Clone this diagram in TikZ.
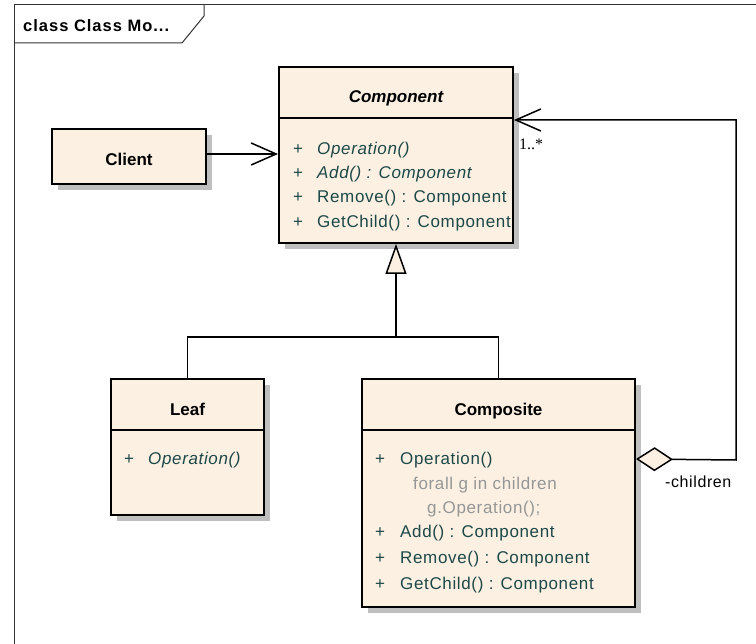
\documentclass[tikz,border=0pt]{standalone}
\usepackage{fontspec}
\setmainfont{Liberation Sans}
\newfontfamily\memberfont[LetterSpace=3.8]{Liberation Sans}
\newfontfamily\framefont[LetterSpace=6]{Liberation Sans}
\newfontfamily\multfont{Liberation Serif}
\usetikzlibrary{arrows.meta,shadows}
\definecolor{classfill}{RGB}{251,240,226}
\definecolor{membercol}{RGB}{30,72,72}
\definecolor{notecol}{RGB}{150,150,150}
\tikzset{
  classbox/.style={draw, line width=2pt, fill=classfill, inner sep=0pt,
    drop shadow={shadow xshift=6pt, shadow yshift=-6pt, fill=black!25, opacity=1}},
  classname/.style={anchor=base, inner sep=0pt, font=\fontsize{17}{20}\selectfont\bfseries},
  member/.style={anchor=base west, inner sep=0pt, text=membercol, font=\fontsize{17}{20}\selectfont\memberfont},
  note/.style={member, text=notecol},
  assoc/.style={line width=1.5pt, -{Straight Barb[length=25pt,width=22pt]}},
  inherit/.style={line width=1.5pt, -{Triangle[length=30pt,width=21pt,fill=classfill]}},
  aggr/.style={line width=1.5pt, {Diamond[length=37pt,width=24pt,fill=classfill]}-{Straight Barb[length=25pt,width=22pt]}}
}
\begin{document}
\begin{tikzpicture}[x=1pt, y=-1pt]
\useasboundingbox (0,0) rectangle (756,644);
% frame
\draw[black!80, line width=1pt] (14,644) -- (14,5) -- (756,5);
\draw[black!80, line width=1pt] (14,43) -- (182,43) -- (204,16) -- (204,5);
\node[anchor=base west, inner sep=0pt, font=\fontsize{16.5}{18}\selectfont\framefont\bfseries] (frametitle) at (23,32) {class Class Mo...};
% classes
\node[classbox, minimum width=234pt, minimum height=176pt] (component) at (396,155) {};
\node[classbox, minimum width=154pt, minimum height=55pt] (client) at (129,156.5) {};
\node[classbox, minimum width=153pt, minimum height=136pt] (leaf) at (187.5,447) {};
\node[classbox, minimum width=273pt, minimum height=228pt] (composite) at (498.5,493) {};
\draw[line width=1.5pt] ([yshift=-52pt]component.north west) -- ([yshift=-52pt]component.north east);
\draw[line width=1.5pt] ([yshift=-52pt]leaf.north west) -- ([yshift=-52pt]leaf.north east);
\draw[line width=1.5pt] ([yshift=-52pt]composite.north west) -- ([yshift=-52pt]composite.north east);
% names
\node[classname, font=\fontsize{17}{20}\selectfont\bfseries\itshape] (componentname) at (396,103) {Component};
\node[classname] (clientname) at (129,166) {Client};
\node[classname] (leafname) at (187.5,416) {Leaf};
\node[classname] (compositename) at (498.5,416) {Composite};
% members
\node[member] (cp1) at (293,155) {+};
\node[member] at (317,155) {\itshape Operation()};
\node[member] (cp2) at (293,179) {+};
\node[member] at (317,179) {\itshape Add() : Component};
\node[member] (cp3) at (293,203) {+};
\node[member] at (317,203) {Remove() : Component};
\node[member] (cp4) at (293,228) {+};
\node[member] at (317,228) {GetChild() : Component};
\node[member] (lf1) at (124,465) {+};
\node[member] at (148,465) {\itshape Operation()};
\node[member] (cs1) at (375,465) {+};
\node[member] at (400,465) {Operation()};
\node[note] at (413,490) {forall g in children};
\node[note] at (427,514) {g.Operation();};
\node[member] (cs2) at (375,538) {+};
\node[member] at (400,538) {Add() : Component};
\node[member] (cs3) at (375,563) {+};
\node[member] at (400,563) {Remove() : Component};
\node[member] (cs4) at (375,589) {+};
\node[member] at (400,589) {GetChild() : Component};
% connectors
\draw[assoc] ([yshift=2.5pt]client.east) -- ([yshift=2.5pt]client.east -| component.west);
\coordinate (bend) at (736,460);
\coordinate (fork) at (396,337);
\draw[line width=1.5pt] (leaf.north) |- (fork) -| (composite.north);
\draw[inherit] (fork) -- (component.south);
\draw[aggr] ([yshift=-81pt]composite.north east) -- (bend) |- ([yshift=-54pt]component.north east);
\node[anchor=base west, inner sep=0pt, font=\fontsize{16}{18}\selectfont\multfont] (mult) at (519,150) {1..*};
\node[anchor=base west, inner sep=0pt, font=\fontsize{16}{18}\selectfont\memberfont] (role) at (665,488) {-children};
\end{tikzpicture}
\end{document}
